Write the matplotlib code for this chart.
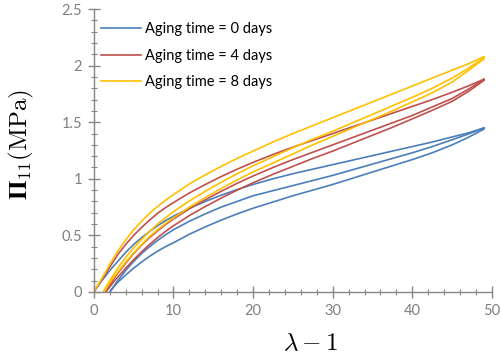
import numpy as np
import matplotlib
matplotlib.use("Agg")
import matplotlib.pyplot as plt
from matplotlib.ticker import MultipleLocator

plt.rcParams["font.family"] = ["Lato", "DejaVu Sans"]
plt.rcParams["mathtext.fontset"] = "cm"
# y축 라벨용 custom 폰트셋 (굵은 Π)
plt.rcParams["mathtext.rm"] = "cmr10"
plt.rcParams["mathtext.it"] = "cmmi10"
plt.rcParams["mathtext.bf"] = "STIXGeneral:bold"

# 데이터
labels = ["Aging time = 0 days", "Aging time = 4 days", "Aging time = 8 days"]
colors = ["#4a7ebb", "#c0504d", "#ffc000"]

# 첫 번째 loading 곡선 (원점에서 시작)
x_load = [0, 0.5, 1, 1.5, 2, 3, 4, 5, 6, 7, 8, 9, 10, 12, 14, 16, 18, 20,
          22.5, 25, 27.5, 30, 32.5, 35, 37.5, 40, 42.5, 45, 47, 49]
y_load_0 = [0, 0.05, 0.10, 0.145, 0.19, 0.27, 0.35, 0.42, 0.48, 0.535, 0.585, 0.63, 0.67,
            0.74, 0.80, 0.855, 0.905, 0.95, 1.0, 1.045, 1.085, 1.125, 1.165, 1.205,
            1.245, 1.285, 1.325, 1.37, 1.405, 1.45]
y_load_4 = [0, 0.055, 0.11, 0.165, 0.22, 0.33, 0.42, 0.50, 0.57, 0.635, 0.695, 0.745, 0.79,
            0.875, 0.95, 1.02, 1.085, 1.145, 1.215, 1.28, 1.34, 1.40, 1.46, 1.52,
            1.58, 1.64, 1.70, 1.765, 1.82, 1.88]
y_load_8 = [0, 0.06, 0.12, 0.18, 0.245, 0.36, 0.46, 0.55, 0.625, 0.695, 0.755, 0.81, 0.86,
            0.955, 1.035, 1.11, 1.18, 1.245, 1.325, 1.40, 1.47, 1.54, 1.61, 1.68,
            1.75, 1.82, 1.89, 1.96, 2.015, 2.08]

# reloading / unloading 곡선 (잔류 변형에서 시작)
x_cyc_0 = [2, 2.5, 3, 4, 5, 6, 7, 8, 9, 10, 12, 14, 16, 18, 20,
           22.5, 25, 27.5, 30, 32.5, 35, 37.5, 40, 42.5, 45, 47, 49]
y_mid_0 = [0, 0.05, 0.10, 0.19, 0.27, 0.34, 0.40, 0.455, 0.505, 0.55, 0.625, 0.69, 0.75,
           0.80, 0.85, 0.895, 0.94, 0.985, 1.03, 1.08, 1.13, 1.18, 1.23, 1.285, 1.345,
           1.395, 1.45]
y_low_0 = [0, 0.045, 0.085, 0.15, 0.21, 0.265, 0.315, 0.36, 0.40, 0.435, 0.51, 0.575, 0.635,
           0.69, 0.74, 0.795, 0.85, 0.90, 0.95, 1.005, 1.06, 1.115, 1.17, 1.23, 1.30,
           1.365, 1.44]

x_cyc_4 = [1.5, 2, 2.5, 3, 4, 5, 6, 7, 8, 9, 10, 12, 14, 16, 18, 20,
           22.5, 25, 27.5, 30, 32.5, 35, 37.5, 40, 42.5, 45, 47, 49]
y_mid_4 = [0, 0.06, 0.115, 0.165, 0.255, 0.34, 0.415, 0.48, 0.54, 0.595, 0.645, 0.735,
           0.815, 0.89, 0.96, 1.025, 1.10, 1.17, 1.235, 1.30, 1.365, 1.43, 1.495, 1.56,
           1.635, 1.71, 1.79, 1.88]
y_low_4 = [0, 0.045, 0.09, 0.13, 0.21, 0.285, 0.355, 0.42, 0.48, 0.535, 0.585, 0.675,
           0.755, 0.83, 0.90, 0.965, 1.04, 1.11, 1.18, 1.245, 1.315, 1.385, 1.455, 1.53,
           1.605, 1.685, 1.77, 1.87]

x_cyc_8 = [1.2, 1.5, 2, 2.5, 3, 4, 5, 6, 7, 8, 9, 10, 12, 14, 16, 18, 20,
           22.5, 25, 27.5, 30, 32.5, 35, 37.5, 40, 42.5, 45, 47, 49]
y_mid_8 = [0, 0.04, 0.10, 0.155, 0.21, 0.305, 0.39, 0.465, 0.535, 0.60, 0.655, 0.71,
           0.805, 0.89, 0.97, 1.045, 1.115, 1.195, 1.275, 1.35, 1.42, 1.495, 1.57,
           1.645, 1.72, 1.80, 1.89, 1.975, 2.07]
y_low_8 = [0, 0.03, 0.08, 0.13, 0.175, 0.265, 0.345, 0.42, 0.49, 0.55, 0.605, 0.655,
           0.75, 0.835, 0.915, 0.99, 1.06, 1.14, 1.22, 1.30, 1.375, 1.45, 1.525, 1.60,
           1.68, 1.76, 1.855, 1.955, 2.06]

series = [
    (y_load_0, x_cyc_0, y_mid_0, y_low_0),
    (y_load_4, x_cyc_4, y_mid_4, y_low_4),
    (y_load_8, x_cyc_8, y_mid_8, y_low_8),
]

fig = plt.figure(figsize=(5.02, 3.64), dpi=100)
ax = fig.add_axes([0.187, 0.198, 0.793, 0.777])

lw = 1.2
for (y_load, x_cyc, y_mid, y_low), c, lab in zip(series, colors, labels):
    ax.plot(x_load, y_load, color=c, lw=lw, label=lab)
    ax.plot(x_cyc, y_mid, color=c, lw=lw)
    ax.plot(x_cyc, y_low, color=c, lw=lw)

ax.set_xlim(0, 50)
ax.set_ylim(0, 2.5)
ax.xaxis.set_minor_locator(MultipleLocator(2))
ax.yaxis.set_minor_locator(MultipleLocator(0.1))
ax.set_xticks([0, 10, 20, 30, 40, 50])
ax.set_xticklabels(["0", "10", "20", "30", "40", "50"])
ax.set_yticks([0, 0.5, 1, 1.5, 2, 2.5])
ax.set_yticklabels(["0", "0.5", "1", "1.5", "2", "2.5"])

gray = "#868686"
for s in ["top", "right"]:
    ax.spines[s].set_visible(False)
for s in ["left", "bottom"]:
    ax.spines[s].set_color(gray)
    ax.spines[s].set_linewidth(1.0)
ax.tick_params(which="major", direction="inout", length=9, width=1.0,
               color=gray, labelcolor="#7f7f7f", labelsize=10.5, pad=4)
ax.tick_params(which="minor", direction="inout", length=5, width=0.8, color=gray)

ax.set_xlabel(r"$\lambda - 1$", fontsize=18, math_fontfamily="cm")
ax.set_ylabel(r"$\mathbf{\Pi}_{11}(\mathrm{MPa})$", fontsize=18,
              math_fontfamily="custom")
ax.xaxis.set_label_coords(0.545, -0.14)
ax.yaxis.set_label_coords(-0.145, 0.52)

ax.legend(loc="upper left", bbox_to_anchor=(0.018, 0.955), frameon=False,
          fontsize=10.5, handlelength=2.75, handletextpad=0.25,
          labelspacing=0.88, borderpad=0, borderaxespad=0)

fig.savefig("out.png", dpi=100)
